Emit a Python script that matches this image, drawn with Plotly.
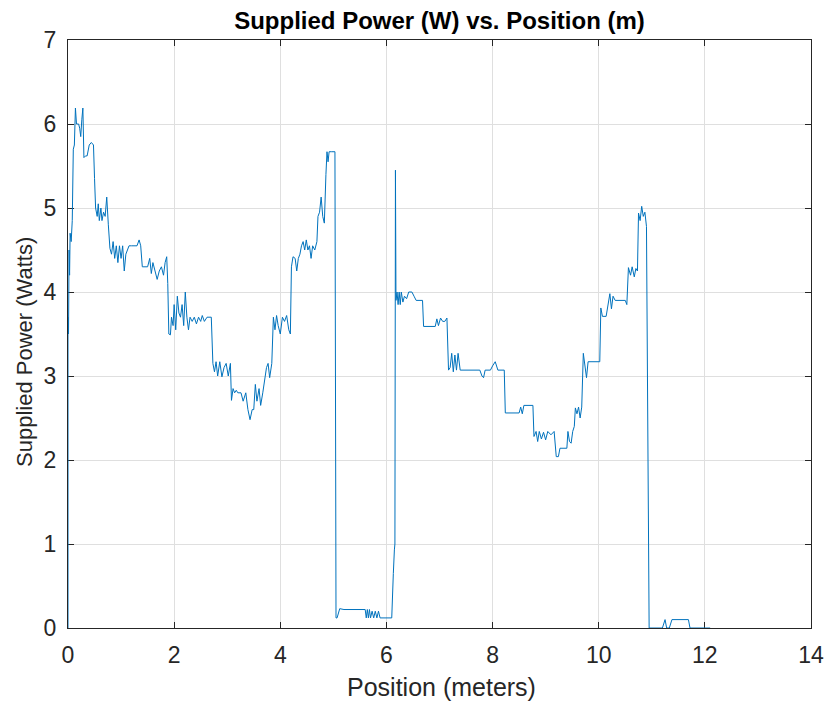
import plotly.graph_objects as go

# Position (m) and supplied power (W)
position = [
    0.00, 0.00, 0.01, 0.02, 0.03, 0.04, 0.06, 0.08, 0.10, 0.12, 0.14, 0.16, 0.20, 0.22, 0.24, 0.26,
    0.28, 0.30, 0.33, 0.36, 0.40, 0.44, 0.48, 0.50, 0.52, 0.55, 0.57, 0.59, 0.62, 0.64, 0.67, 0.70,
    0.73, 0.76, 0.79, 0.82, 0.85, 0.88, 0.91, 0.94, 0.97, 1.00, 1.03, 1.06, 1.09, 1.12, 1.15, 1.20,
    1.25, 1.30, 1.34, 1.37, 1.40, 1.45, 1.50, 1.54, 1.57, 1.60, 1.64, 1.68, 1.72, 1.76, 1.80, 1.83,
    1.86, 1.88, 1.90, 1.93, 1.95, 1.98, 2.00, 2.03, 2.06, 2.09, 2.12, 2.15, 2.18, 2.21, 2.24, 2.27,
    2.30, 2.34, 2.38, 2.42, 2.46, 2.50, 2.53, 2.57, 2.62, 2.70, 2.73, 2.76, 2.79, 2.82, 2.86, 2.90,
    2.94, 2.98, 3.02, 3.06, 3.08, 3.11, 3.14, 3.17, 3.20, 3.26, 3.30, 3.35, 3.39, 3.43, 3.47, 3.50,
    3.53, 3.56, 3.60, 3.63, 3.67, 3.70, 3.74, 3.77, 3.80, 3.84, 3.87, 3.90, 3.93, 3.96, 4.00, 4.04,
    4.08, 4.12, 4.16, 4.19, 4.21, 4.24, 4.28, 4.31, 4.34, 4.37, 4.40, 4.43, 4.46, 4.49, 4.52, 4.55,
    4.58, 4.61, 4.65, 4.69, 4.71, 4.74, 4.77, 4.80, 4.83, 4.86, 4.88, 4.90, 4.92, 4.96, 5.03, 5.05,
    5.07, 5.12, 5.20, 5.60, 5.62, 5.64, 5.66, 5.68, 5.70, 5.73, 5.76, 5.79, 5.82, 5.85, 5.88, 6.10,
    6.11, 6.13, 6.15, 6.16, 6.17, 6.18, 6.20, 6.22, 6.24, 6.26, 6.28, 6.31, 6.34, 6.38, 6.42, 6.48,
    6.52, 6.56, 6.68, 6.70, 6.92, 6.95, 6.98, 7.02, 7.06, 7.10, 7.14, 7.17, 7.20, 7.23, 7.26, 7.29,
    7.32, 7.35, 7.39, 7.48, 7.60, 7.76, 7.80, 7.83, 7.86, 7.96, 8.00, 8.05, 8.10, 8.22, 8.24, 8.50,
    8.53, 8.56, 8.59, 8.70, 8.76, 8.78, 8.82, 8.85, 8.88, 8.92, 8.96, 9.00, 9.04, 9.10, 9.16, 9.20,
    9.24, 9.27, 9.36, 9.40, 9.42, 9.45, 9.48, 9.51, 9.54, 9.56, 9.59, 9.62, 9.65, 9.68, 9.71, 9.74,
    9.77, 9.80, 9.90, 10.02, 10.04, 10.07, 10.14, 10.18, 10.21, 10.24, 10.27, 10.31, 10.40, 10.50, 10.53, 10.56,
    10.60, 10.63, 10.67, 10.70, 10.73, 10.75, 10.78, 10.81, 10.84, 10.87, 10.90, 10.95, 11.20, 11.25, 11.28, 11.33,
    11.38, 11.69, 11.72, 12.10,
]
power = [
    0.00, 3.70, 3.50, 4.50, 4.20, 4.70, 4.60, 4.85, 5.70, 5.75, 6.19, 6.00, 6.00, 5.95, 5.85, 6.05,
    6.19, 5.60, 5.62, 5.62, 5.75, 5.78, 5.75, 5.35, 5.00, 4.90, 5.05, 4.85, 5.00, 4.85, 4.95, 4.90,
    5.13, 4.80, 4.52, 4.45, 4.60, 4.40, 4.55, 4.35, 4.55, 4.40, 4.55, 4.25, 4.45, 4.50, 4.55, 4.55,
    4.55, 4.55, 4.62, 4.55, 4.30, 4.30, 4.30, 4.40, 4.22, 4.35, 4.25, 4.15, 4.25, 4.30, 4.20, 4.35,
    4.42, 4.10, 3.50, 3.49, 3.70, 3.60, 3.85, 3.55, 3.95, 3.75, 3.70, 3.85, 3.60, 4.00, 3.70, 3.55,
    3.70, 3.65, 3.70, 3.62, 3.70, 3.65, 3.72, 3.65, 3.70, 3.70, 3.15, 3.05, 3.17, 3.00, 3.17, 2.99,
    3.10, 3.15, 3.00, 3.15, 2.71, 2.85, 2.80, 2.83, 2.80, 2.80, 2.70, 2.80, 2.60, 2.48, 2.60, 2.60,
    2.90, 2.70, 2.85, 2.65, 2.80, 2.95, 3.10, 3.15, 2.98, 3.15, 3.70, 3.55, 3.72, 3.60, 3.50, 3.70,
    3.65, 3.72, 3.55, 3.50, 4.30, 4.42, 4.40, 4.25, 4.40, 4.45, 4.55, 4.60, 4.50, 4.62, 4.50, 4.55,
    4.40, 4.55, 4.50, 4.60, 4.90, 4.95, 5.13, 4.90, 4.82, 5.40, 5.67, 5.55, 5.67, 5.67, 5.67, 0.12,
    0.12, 0.23, 0.22, 0.22, 0.12, 0.22, 0.12, 0.22, 0.12, 0.20, 0.12, 0.20, 0.12, 0.20, 0.12, 0.12,
    0.42, 0.65, 0.93, 1.00, 5.45, 3.90, 4.00, 3.85, 4.00, 3.85, 4.00, 3.88, 3.95, 3.92, 4.00, 4.00,
    3.95, 3.90, 3.90, 3.59, 3.59, 3.68, 3.60, 3.69, 3.65, 3.65, 3.69, 3.07, 3.10, 3.27, 3.05, 3.25,
    3.07, 3.27, 3.07, 3.07, 3.07, 3.07, 3.00, 2.98, 3.07, 3.07, 3.12, 3.17, 3.07, 3.07, 2.56, 2.56,
    2.63, 2.55, 2.65, 2.65, 2.65, 2.28, 2.34, 2.22, 2.34, 2.25, 2.33, 2.24, 2.34, 2.30, 2.34, 2.04,
    2.04, 2.14, 2.14, 2.14, 2.34, 2.22, 2.20, 2.34, 2.40, 2.62, 2.55, 2.63, 2.50, 2.63, 3.27, 3.10,
    2.98, 3.17, 3.17, 3.17, 3.81, 3.71, 3.71, 3.85, 3.98, 3.80, 3.95, 3.90, 3.90, 3.90, 3.85, 4.29,
    4.20, 4.30, 4.18, 4.28, 4.25, 4.94, 4.85, 5.02, 4.90, 4.95, 4.78, 0.00, 0.00, 0.10, 0.00, 0.00,
    0.10, 0.10, 0.00, 0.00,
]

x_ticks = [0, 2, 4, 6, 8, 10, 12, 14]
y_ticks = [0, 1, 2, 3, 4, 5, 6, 7]

FONT = "Liberation Sans, Arial, sans-serif"
AXIS_COLOR = "#262626"
GRID_COLOR = "#DFDFDF"

fig = go.Figure()
fig.add_trace(go.Scatter(
    x=position, y=power, mode="lines",
    line=dict(color="#0072BD", width=1),
    hoverinfo="skip", showlegend=False, cliponaxis=False,
))

axis_common = dict(
    showline=True, linecolor=AXIS_COLOR, linewidth=1, mirror="ticks",
    ticks="inside", ticklen=6, tickcolor=AXIS_COLOR, tickwidth=1,
    showgrid=True, gridcolor=GRID_COLOR, gridwidth=1,
    zeroline=False, automargin=False, layer="below traces",
    tickfont=dict(family=FONT, size=23, color=AXIS_COLOR),
)

fig.update_layout(
    width=828, height=702,
    margin=dict(l=68, r=17, t=40, b=74),
    paper_bgcolor="white", plot_bgcolor="white",
    title=dict(
        text="<b>Supplied Power (W) vs. Position (m)</b>",
        font=dict(family=FONT, size=24, color="black"),
        x=(68 + 811) / 2 / 828, xanchor="center", y=1 - 21 / 702, yanchor="middle",
    ),
    xaxis=dict(
        range=[0, 14], tickvals=x_ticks, ticktext=[str(v) for v in x_ticks],
        ticklabelstandoff=6,
        **axis_common,
    ),
    yaxis=dict(
        range=[0, 7], tickvals=y_ticks, ticktext=[str(v) for v in y_ticks],
        ticklabelstandoff=6,
        **axis_common,
    ),
    annotations=[
        dict(text="Position (meters)", xref="paper", yref="paper",
             x=(441 - 68) / 743, y=(628 - 687) / 588, xanchor="center", yanchor="middle",
             showarrow=False, font=dict(family=FONT, size=25, color=AXIS_COLOR)),
        dict(text="Supplied Power (Watts)", xref="paper", yref="paper", textangle=-90,
             x=(25 - 68) / 743, y=(628 - 352) / 588, xanchor="center", yanchor="middle",
             showarrow=False, font=dict(family=FONT, size=22, color=AXIS_COLOR)),
    ],
)

fig.write_html("out.html")
